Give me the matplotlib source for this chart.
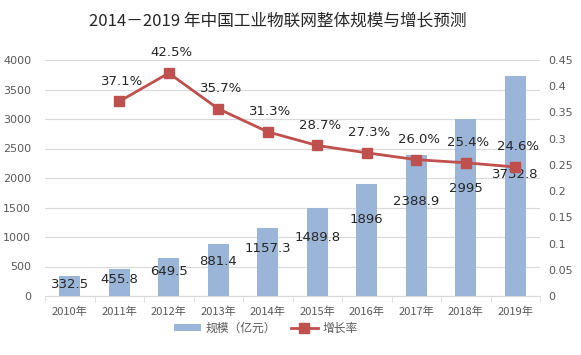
import matplotlib
matplotlib.use("Agg")
import matplotlib.pyplot as plt
import numpy as np
from matplotlib.ticker import FixedLocator, FuncFormatter

plt.rcParams['font.family'] = ['Noto Sans CJK SC', 'DejaVu Sans']

years = ["2010年", "2011年", "2012年", "2013年", "2014年", "2015年", "2016年", "2017年", "2018年", "2019年"]
scale = [332.5, 455.8, 649.5, 881.4, 1157.3, 1489.8, 1896, 2388.9, 2995, 3732.8]
scale_labels = ["332.5", "455.8", "649.5", "881.4", "1157.3", "1489.8", "1896", "2388.9", "2995", "3732.8"]
growth = [None, 0.371, 0.425, 0.357, 0.313, 0.287, 0.273, 0.260, 0.254, 0.246]
growth_labels = ["", "37.1%", "42.5%", "35.7%", "31.3%", "28.7%", "27.3%", "26.0%", "25.4%", "24.6%"]
title = "2014－2019 年中国工业物联网整体规模与增长预测"
bar_name = "规模（亿元）"
line_name = "增长率"

# style: label vertical position as fraction of bar height
bar_label_frac = [0.61, 0.63, 0.63, 0.67, 0.69, 0.67, 0.68, 0.67, 0.61, 0.55]

bar_color = "#9AB5D8"
line_color = "#C0504D"
grid_color = "#D9D9D9"
tick_color = "#595959"

fig = plt.figure(figsize=(5.81, 3.55), dpi=100)
ax = fig.add_axes([45/581, 59/355, 495/581, 236/355])
ax2 = ax.twinx()

x = np.arange(len(years))
ax.bar(x, scale, width=0.42, color=bar_color, zorder=2, label=bar_name)
ax.set_xlim(-0.5, len(years) - 0.5)
ax.set_ylim(0, 4000)
ax.yaxis.set_major_locator(FixedLocator(np.arange(0, 4001, 500)))
ax.grid(axis='y', color=grid_color, linewidth=0.8, zorder=0)
ax.set_axisbelow(True)

for i, v in enumerate(scale):
    ax.text(x[i], v * bar_label_frac[i], scale_labels[i], ha='center', va='center',
            fontsize=9.5, color='#262626', family=['DejaVu Sans'], zorder=5)

gx = [xi for xi, g in zip(x, growth) if g is not None]
gy = [g for g in growth if g is not None]
ax2.plot(gx, gy, color=line_color, linewidth=2, marker='s', markersize=7.5,
         markerfacecolor=line_color, markeredgecolor=line_color, zorder=4, label=line_name)
ax2.set_ylim(0, 0.45)
ax2.yaxis.set_major_locator(FixedLocator(np.arange(0, 0.451, 0.05)))
ax2.yaxis.set_major_formatter(FuncFormatter(lambda v, p: "0" if abs(v) < 1e-9 else f"{v:.2f}".rstrip('0')))
for xi, g, lab in zip(x, growth, growth_labels):
    if g is None:
        continue
    ax2.annotate(lab, (xi, g), xytext=(2, 10), textcoords='offset points', ha='center', va='bottom',
                 fontsize=9.5, color='#262626', family=['DejaVu Sans'])

ax.set_zorder(1)
ax2.set_zorder(2)
ax2.patch.set_visible(False)

for a in (ax, ax2):
    for s in ('top', 'left', 'right', 'bottom'):
        a.spines[s].set_visible(False)
ax.spines['bottom'].set_visible(True)
ax.spines['bottom'].set_color(grid_color)

ax.set_xticks(x)
ax.set_xticklabels(years, fontsize=8, color=tick_color, family=['Noto Sans CJK SC'])
ax.tick_params(axis='x', length=0, pad=8)
ax.set_xticks(np.arange(-0.5, len(years), 1), minor=True)
ax.tick_params(axis='x', which='minor', length=4, color=grid_color)
ax.tick_params(axis='y', length=0, labelsize=8, labelcolor=tick_color, pad=10)
ax2.tick_params(axis='y', length=0, labelsize=8, labelcolor=tick_color, pad=6)
for lab in ax.get_yticklabels() + ax2.get_yticklabels():
    lab.set_family(['DejaVu Sans'])

fig.text(278/581, 1 - 21/355, title, ha='center', va='center', fontsize=12, color='#262626')

h1, l1 = ax.get_legend_handles_labels()
h2, l2 = ax2.get_legend_handles_labels()
fig.legend(h1 + h2, l1 + l2, loc='center', bbox_to_anchor=(266/581, 1 - 328/355), ncol=2,
           frameon=False, fontsize=8.5, handlelength=2.3, handleheight=0.5, handletextpad=0.4,
           columnspacing=1.2, labelcolor=tick_color)

fig.savefig("out.png", dpi=100)
